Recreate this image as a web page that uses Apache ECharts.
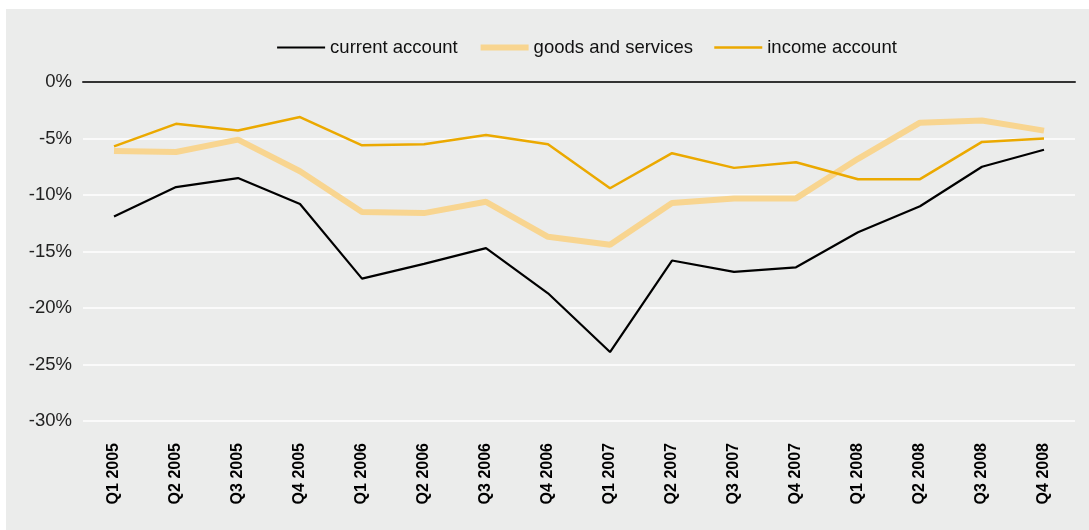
<!DOCTYPE html>
<html>
<head>
<meta charset="utf-8">
<script src="https://cdn.jsdelivr.net/npm/echarts@6/dist/echarts.min.js"></script>
<style>
html,body{margin:0;padding:0;background:#fff;}
#panel{position:absolute;left:6px;top:9px;width:1083px;height:521px;background:#EBECEB;}
#chart{position:absolute;left:0;top:0;width:1089px;height:530px;}
</style>
</head>
<body>
<div id="panel"></div>
<div id="chart"></div>
<script>
const categories = ['Q1 2005','Q2 2005','Q3 2005','Q4 2005','Q1 2006','Q2 2006','Q3 2006','Q4 2006','Q1 2007','Q2 2007','Q3 2007','Q4 2007','Q1 2008','Q2 2008','Q3 2008','Q4 2008'];
const currentAccount = [-11.9,-9.3,-8.5,-10.8,-17.4,-16.1,-14.7,-18.7,-23.9,-15.8,-16.8,-16.4,-13.3,-11.0,-7.5,-6.0];
const goodsServices = [-6.1,-6.2,-5.1,-7.9,-11.5,-11.6,-10.6,-13.7,-14.4,-10.7,-10.3,-10.3,-6.8,-3.6,-3.4,-4.3];
const incomeAccount = [-5.7,-3.7,-4.3,-3.1,-5.6,-5.5,-4.7,-5.5,-9.4,-6.3,-7.6,-7.1,-8.6,-8.6,-5.3,-5.0];
const yTicks = {min:-30, max:0, interval:5};

const chart = echarts.init(document.getElementById('chart'), null, {renderer:'canvas'});
const font = 'Liberation Sans, Arial, Helvetica, sans-serif';
chart.setOption({
  backgroundColor: 'transparent',
  animation: false,
  textStyle: {fontFamily: font},
  legend: {
    left: 271, top: 33,
    itemWidth: 48, itemHeight: 20, itemGap: 20,
    textStyle: {fontSize: 18.5, color: '#111', fontFamily: font},
    data: [
      {name:'current account', lineStyle:{color:'#000', width:2.2}, itemStyle:{opacity:0}},
      {name:'goods and services', lineStyle:{color:'#F8D590', width:6}, itemStyle:{opacity:0}},
      {name:'income account', lineStyle:{color:'#EBA900', width:2.5}, itemStyle:{opacity:0}}
    ]
  },
  grid: {left: 83, right: 14, top: 82, bottom: 109, containLabel: false},
  xAxis: [{
    type: 'category', data: categories, boundaryGap: true, position: 'bottom',
    axisLine: {show: false}, axisTick: {show: false},
    axisLabel: {rotate: 90, margin: 22, fontSize: 16, fontWeight: 'bold', color: '#000', fontFamily: font, interval: 0}
  },{
    type: 'category', data: categories, position: 'top',
    axisLine: {show: true, onZero:false, lineStyle: {color: '#333', width: 2}},
    axisTick: {show: false}, axisLabel: {show: false}
  }],
  yAxis: {
    type: 'value', min: yTicks.min, max: yTicks.max, interval: yTicks.interval,
    axisLine: {show: false}, axisTick: {show: false},
    axisLabel: {formatter: v => v + '%', fontSize: 18.5, color: '#222', margin: 11, fontFamily: font},
    splitLine: {lineStyle: {color: '#fff', width: 1.5}}
  },
  series: [
    {name:'current account', type:'line', data: currentAccount, symbol:'none', lineStyle:{color:'#000', width:2.2}, itemStyle:{color:'#000'}, z:3},
    {name:'goods and services', type:'line', data: goodsServices, symbol:'none', lineStyle:{color:'#F8D590', width:6}, itemStyle:{color:'#F8D590'}, z:2},
    {name:'income account', type:'line', data: incomeAccount, symbol:'none', lineStyle:{color:'#EBA900', width:2.5}, itemStyle:{color:'#EBA900'}, z:4}
  ]
});
</script>
</body>
</html>
